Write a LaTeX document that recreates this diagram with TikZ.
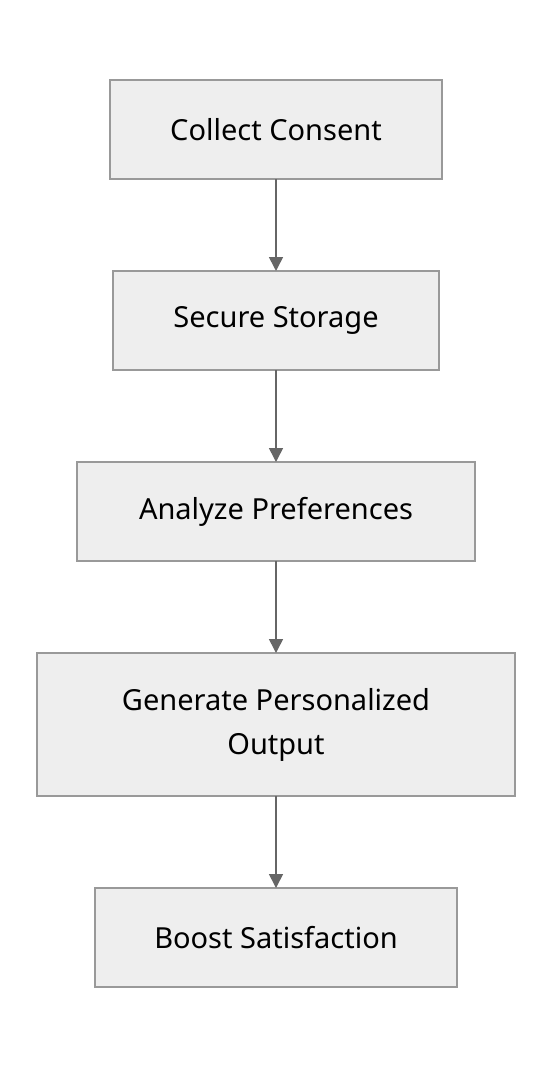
\documentclass[tikz,border=0pt]{standalone}
\usepackage{fontspec}
\setmainfont{Noto Sans}
\usetikzlibrary{arrows.meta, positioning}
\definecolor{boxfill}{HTML}{EEEEEE}
\definecolor{boxline}{HTML}{999999}
\definecolor{arrowcol}{HTML}{666666}
\tikzset{
    stage/.style={
        rectangle, draw=boxline, fill=boxfill, line width=1.3pt,
        inner sep=0pt, outer sep=0pt, align=center,
        minimum height=99pt,
        font=\fontsize{29}{44}\selectfont,
        node distance=92pt
    },
    conn/.style={
        draw=arrowcol, line width=1.6pt,
        -{Triangle[length=14pt, width=14pt]},
    },
}
\begin{document}
\begin{tikzpicture}[x=1pt, y=1pt]
        \useasboundingbox (0,0) rectangle (552,-1068);
        \node[stage, minimum width=332pt] (consent) at (276,-129.5) {Collect Consent};
        \node[stage, minimum width=326pt, below=of consent] (storage) {Secure Storage};
        \node[stage, minimum width=398pt, below=of storage] (analyze) {Analyze Preferences};
        \node[stage, minimum width=478pt, minimum height=143pt, below=of analyze] (output) {Generate Personalized\\Output};
        \node[stage, minimum width=362pt, below=of output] (boost) {Boost Satisfaction};

        \foreach \i/\j in {consent/storage, storage/analyze, analyze/output, output/boost}
                            \draw[conn] (\i)--(\j);
\end{tikzpicture}
\end{document}
